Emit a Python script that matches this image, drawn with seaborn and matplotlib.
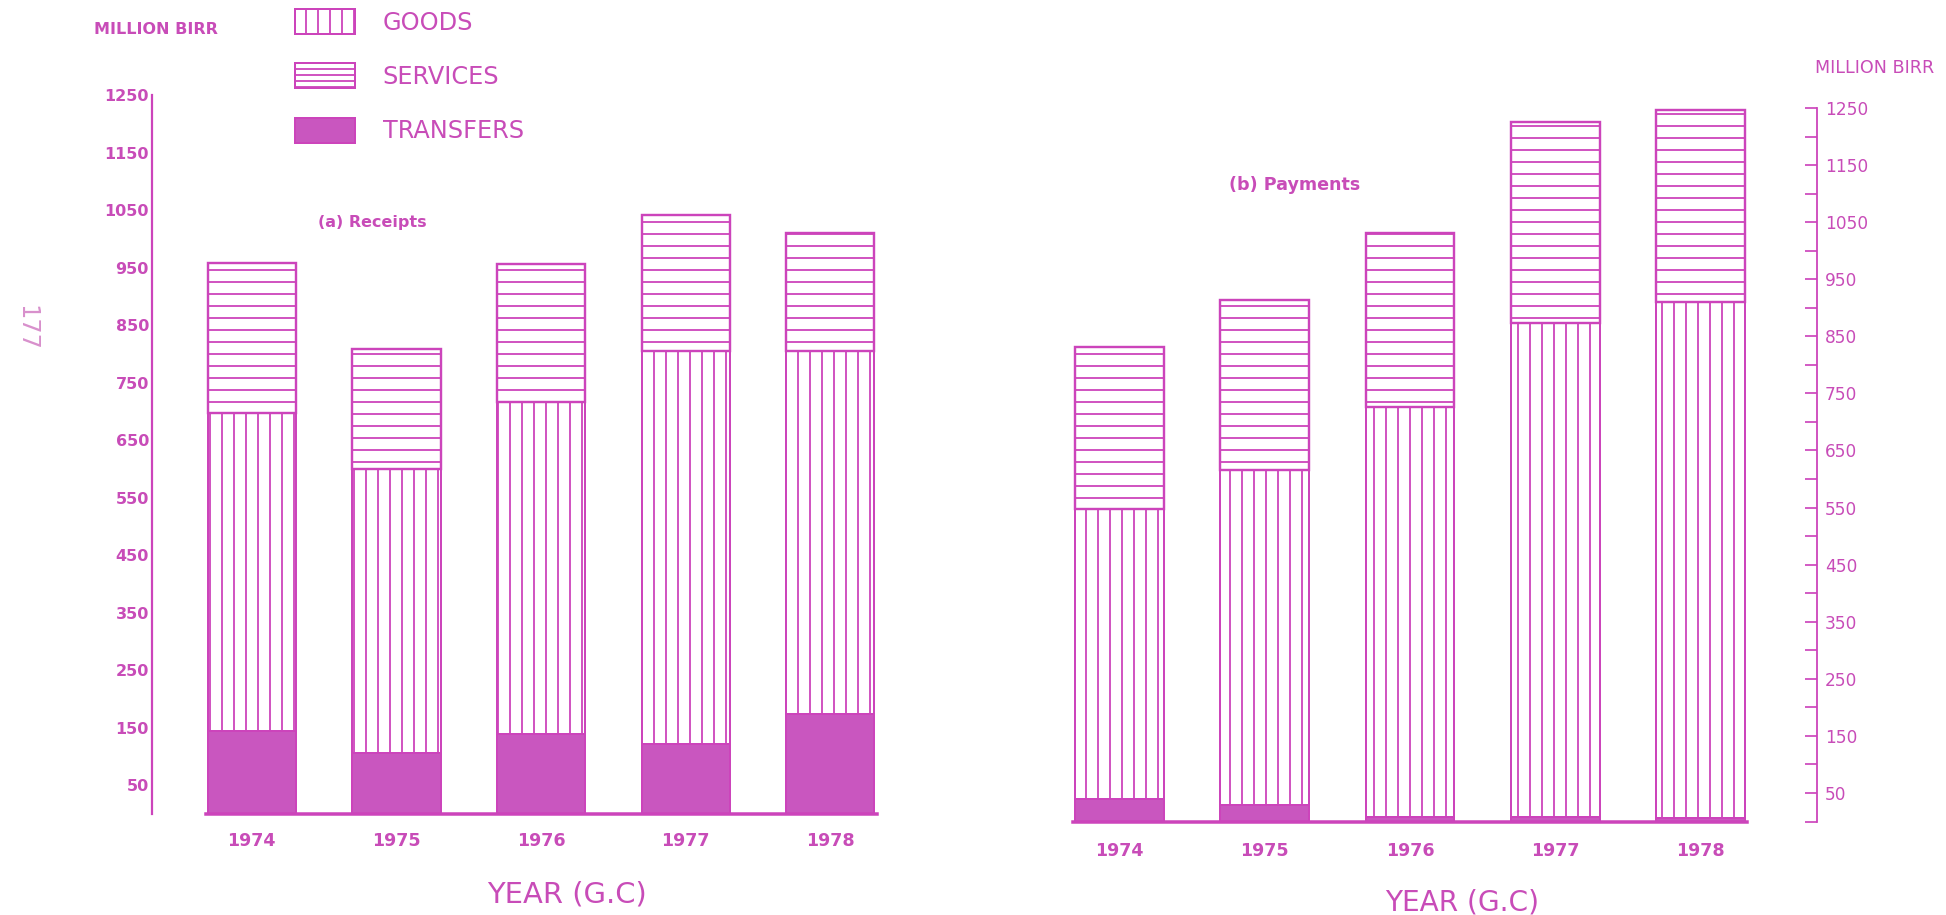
import numpy as np
import pandas as pd
import matplotlib
matplotlib.use("Agg")
import matplotlib.pyplot as plt
from matplotlib.patches import Patch
import seaborn as sns

# values (million birr)
years = ["1974", "1975", "1976", "1977", "1978"]

rec_transfers = [144, 106, 139, 122, 174]
rec_goods = [553, 494, 578, 683, 631]
rec_services = [261, 209, 240, 237, 205]

pay_transfers = [39, 29, 8, 8, 7]
pay_goods = [508, 587, 718, 865, 903]
pay_services = [284, 297, 305, 353, 337]

major_ticks = [50, 150, 250, 350, 450, 550, 650, 750, 850, 950, 1050, 1150, 1250]
minor_ticks = [0, 100, 200, 300, 400, 500, 600, 700, 800, 900, 1000, 1100, 1200]

line_c = "#cc44bb"
fill_c = "#c956bf"
text_c = "#c84cb8"

sns.set_style("white")
plt.rcParams["font.family"] = ["DejaVu Sans"]
plt.rcParams["hatch.color"] = line_c
plt.rcParams["hatch.linewidth"] = 1.8

# dpi 72 -> 1 pt == 1 px, and hatch spacing of ~12 px like the scan
W, H = 1946, 915
fig = plt.figure(figsize=(W / 72, H / 72), dpi=72)
ax1 = fig.add_axes([152 / W, (H - 814) / H, (878 - 152) / W, (814 - 95) / H])
ax2 = fig.add_axes([1071.5 / W, (H - 821.5) / H, (1817 - 1071.5) / W, (821.5 - 108) / H])


def stack(ax, transfers, goods, services):
    t = np.array(transfers)
    g = np.array(goods)
    s = np.array(services)
    sns.barplot(x=years, y=t, ax=ax, color=fill_c, edgecolor=line_c, linewidth=2,
                saturation=1, width=0.61, errorbar=None)
    sns.barplot(x=years, y=g, bottom=t, ax=ax, color="white", edgecolor=line_c,
                hatch="|", linewidth=2, saturation=1, width=0.61, errorbar=None)
    sns.barplot(x=years, y=s, bottom=t + g, ax=ax, color="white", edgecolor=line_c,
                hatch="-", linewidth=2.4, saturation=1, width=0.61, errorbar=None)


stack(ax1, rec_transfers, rec_goods, rec_services)
stack(ax2, pay_transfers, pay_goods, pay_services)

for ax in (ax1, ax2):
    ax.set_ylim(0, 1250)
    ax.set_yticks(major_ticks)
    ax.set_yticks(minor_ticks, minor=True)
    ax.set_xlabel("")
    ax.set_ylabel("")
    ax.spines["top"].set_visible(False)
    ax.spines["bottom"].set_bounds(-0.32, 4.32)
    ax.spines["bottom"].set_color(line_c)
    ax.spines["bottom"].set_linewidth(3.5)
    ax.tick_params(axis="x", length=0, labelsize=17.5, labelcolor=text_c)
    for lbl in ax.get_xticklabels():
        lbl.set_fontweight("bold")
    ax.set_facecolor("none")

# left panel: axis on the left, ticks pointing in
ax1.set_xlim(-0.69, 4.33)
ax1.spines["right"].set_visible(False)
ax1.spines["left"].set_color(line_c)
ax1.spines["left"].set_linewidth(2.2)
ax1.tick_params(axis="x", pad=18)
ax1.tick_params(axis="y", which="both", direction="in", length=14, width=2,
                color=line_c, labelcolor=text_c, labelsize=16, pad=3)
for lbl in ax1.get_yticklabels():
    lbl.set_fontweight("bold")

# right panel: axis on the right
ax2.set_xlim(-0.33, 4.8)
ax2.spines["left"].set_visible(False)
ax2.spines["right"].set_color(line_c)
ax2.spines["right"].set_linewidth(1.8)
ax2.yaxis.tick_right()
ax2.tick_params(axis="x", pad=20)
ax2.tick_params(axis="y", which="both", direction="in", length=12, width=1.7,
                color=line_c, labelcolor=text_c, labelsize=17, pad=8)

# legend
handles = [
    Patch(facecolor="white", edgecolor=line_c, hatch="|", linewidth=2, label="GOODS"),
    Patch(facecolor="white", edgecolor=line_c, hatch="--", linewidth=2, label="SERVICES"),
    Patch(facecolor=fill_c, edgecolor=line_c, linewidth=2, label="TRANSFERS"),
]
leg = fig.legend(handles=handles, loc="upper left", bbox_to_anchor=(295 / W, 1 - 9 / H),
                 frameon=False, fontsize=24, handlelength=2.5, handleheight=1.22,
                 labelspacing=1.2, handletextpad=1.15, borderpad=0, borderaxespad=0)
for t in leg.get_texts():
    t.set_color(text_c)

fig.text(94 / W, 1 - 30 / H, "MILLION BIRR", color=text_c, fontsize=16,
         fontweight="bold", va="center", ha="left")
fig.text(1815 / W, 1 - 68 / H, "MILLION BIRR", color=text_c, fontsize=17.5,
         va="center", ha="left")
fig.text(318 / W, 1 - 223 / H, "(a) Receipts", color=text_c, fontsize=16,
         fontweight="bold", va="center", ha="left")
fig.text(1229 / W, 1 - 185 / H, "(b) Payments", color=text_c, fontsize=17.5,
         fontweight="bold", va="center", ha="left")
fig.text(567 / W, 1 - 895 / H, "YEAR (G.C)", color=text_c, fontsize=29,
         va="center", ha="center")
fig.text(1462 / W, 1 - 903 / H, "YEAR (G.C)", color=text_c, fontsize=28,
         va="center", ha="center")
fig.text(26 / W, 1 - 328 / H, "177", color="#d890cc", fontsize=24,
         rotation=-90, va="center", ha="center")

fig.savefig("out.png", dpi=72, facecolor="white")
